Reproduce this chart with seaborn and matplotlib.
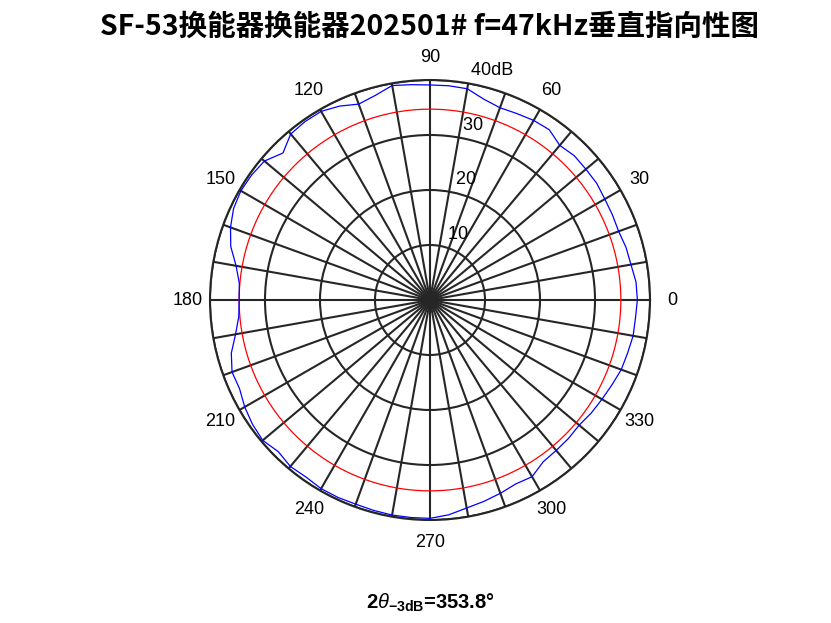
import numpy as np
import pandas as pd
import matplotlib
matplotlib.use("Agg")
import matplotlib.pyplot as plt
import seaborn as sns

# 垂直指向性数据 (角度, dB)
angles = np.arange(0, 360, 5)
levels = [37.7, 37.6, 37.1, 36.9, 36.5, 36.6, 36.7, 37.0, 37.0, 37.1, 36.7, 37.8,
          37.7, 37.4, 37.2, 37.8, 39.0, 39.1, 39.1, 39.3, 39.6, 38.5, 37.9, 38.9,
          39.6, 39.6, 39.4, 37.8, 39.3, 39.6, 39.7, 39.4, 38.6, 37.5, 35.8, 34.8,
          34.7, 34.9, 35.9, 37.4, 38.3, 38.2, 38.9, 39.4, 39.7, 39.0, 39.5, 39.3,
          39.6, 39.6, 39.5, 39.6, 39.7, 39.7, 39.7, 39.2, 38.4, 37.9, 37.4, 36.9,
          37.1, 35.9, 35.7, 35.6, 35.4, 35.8, 36.1, 36.5, 37.0, 37.2, 37.5, 37.5]
level_3db = 34.7
r_max = 40
r_ticks = [10, 20, 30, 40]
r_labels = ['10', '20', '30', '40dB']
theta_label_angles = np.arange(0, 360, 30)
title = 'SF-53换能器换能器202501# f=47kHz垂直指向性图'
beam_text = r'$\mathbf{2}\theta_{\mathbf{-3dB}}$=353.8°'

sns.set_style('white')
plt.rcParams['font.family'] = ['Liberation Sans', 'DejaVu Sans']
plt.rcParams['text.color'] = 'black'
plt.rcParams['mathtext.fontset'] = 'custom'
plt.rcParams['mathtext.rm'] = 'Liberation Sans'
plt.rcParams['mathtext.it'] = 'Liberation Sans:italic'
plt.rcParams['mathtext.bf'] = 'Liberation Sans:bold'

df = pd.DataFrame({'theta': np.deg2rad(np.append(angles, 360)),
                   'r': np.append(levels, levels[0])})
circ = pd.DataFrame({'theta': np.linspace(0, 2 * np.pi, 361)})
circ['r'] = level_3db

fig = plt.figure(figsize=(8.31, 6.23), dpi=100)
ax = fig.add_axes([0.2527, 0.1653, 0.5295, 0.7063], projection='polar')

grid_col = '#262626'
ax.set_thetagrids(np.arange(0, 360, 10))
ax.set_rgrids(r_ticks)
ax.set_xticklabels([])
ax.set_yticklabels([])
ax.grid(True, color=grid_col, linewidth=1.5)
ax.spines['polar'].set_color(grid_col)
ax.spines['polar'].set_linewidth(1.5)

sns.lineplot(data=circ, x='theta', y='r', ax=ax, color='red', linewidth=0.9,
             sort=False, estimator=None)
sns.lineplot(data=df, x='theta', y='r', ax=ax, color='blue', linewidth=0.9,
             sort=False, estimator=None)
ax.set_xlabel('')
ax.set_ylabel('')
ax.set_xlim(0, 2 * np.pi)
ax.set_ylim(0, r_max)

for a in theta_label_angles:
    ax.text(np.deg2rad(a), 1.1 * r_max, str(a), ha='center', va='center', fontsize=13)

for r, lab in zip(r_ticks, r_labels):
    ax.text(np.deg2rad(82), r + 0.5, '  ' + lab, ha='left', va='bottom', fontsize=13)

fig.text(430 / 831, 1 - 27 / 623, title, ha='center', va='center', fontsize=20.5,
         fontweight='bold', family=['Noto Sans CJK SC', 'DejaVu Sans'])
fig.text(430 / 831, 1 - 603 / 623, beam_text, ha='center', va='center', fontsize=14.5,
         fontweight='bold')

fig.savefig('out.png', dpi=100)
